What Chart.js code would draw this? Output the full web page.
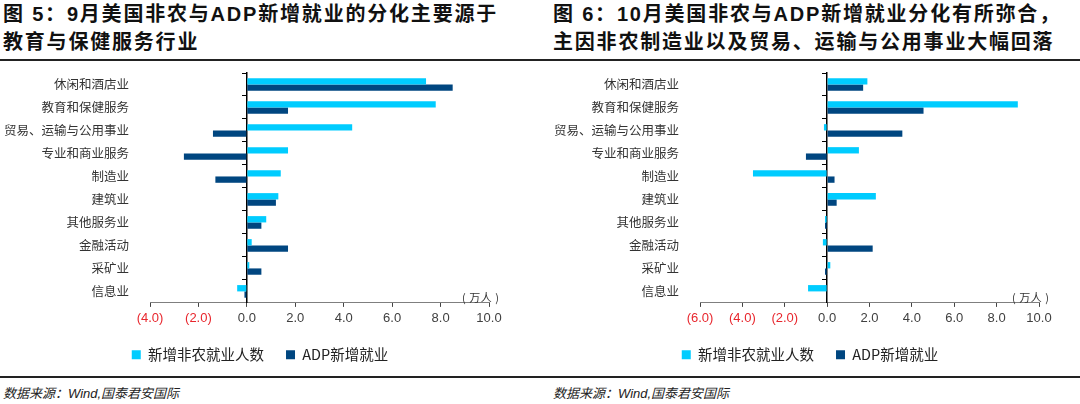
<!DOCTYPE html>
<html>
<head>
<meta charset="utf-8">
<script src="https://cdn.jsdelivr.net/npm/chart.js"></script>
<style>
  html, body { margin: 0; padding: 0; background: #fff; }
  #page { position: relative; width: 1080px; height: 404px; overflow: hidden; }
  .title { position: absolute; top: 0; font: bold 20px "Liberation Sans", "Noto Sans CJK SC", sans-serif;
           line-height: 28px; letter-spacing: 1.8px; color: #111; white-space: nowrap; }
  .rule { position: absolute; left: 0; width: 1080px; height: 2px; background: #222; z-index: 2; }
  .unit { position: absolute; font: 11px "Noto Sans CJK SC", sans-serif; color: #333; letter-spacing: 0.5px; }
  .source { position: absolute; top: 383px; font: italic 13px "Liberation Sans", "Noto Sans CJK SC", sans-serif; color: #222; }
  .box { position: absolute; top: 62px; width: 520px; height: 310px; }
</style>
</head>
<body>
<div id="page">
  <div class="title" style="left:3px">图 5：9月美国非农与ADP新增就业的分化主要源于<br>教育与保健服务行业</div>
  <div class="title" style="left:553px">图 6：10月美国非农与ADP新增就业分化有所弥合，<br>主因非农制造业以及贸易、运输与公用事业大幅回落</div>
  <div class="rule" style="top:59px"></div>

  <div class="box" style="left:0"><canvas id="c1"></canvas></div>
  <div class="box" style="left:550px"><canvas id="c2"></canvas></div>

  <div class="unit" style="left:462px; top:289px">( 万人 )</div>
  <div class="unit" style="left:1012px; top:289px">( 万人 )</div>

  <div class="rule" style="top:376px"></div>
  <div class="source" style="left:3px">数据来源：Wind,国泰君安国际</div>
  <div class="source" style="left:553px">数据来源：Wind,国泰君安国际</div>
</div>

<script>
// categories (top -> bottom)
const categories = ['休闲和酒店业', '教育和保健服务', '贸易、运输与公用事业', '专业和商业服务', '制造业',
                    '建筑业', '其他服务业', '金融活动', '采矿业', '信息业'];

// 9月 (万人)
const sepNonfarm = [7.4, 7.8, 4.35, 1.7, 1.4, 1.3, 0.8, 0.2, 0.1, -0.4];
const sepAdp     = [8.5, 1.7, -1.4, -2.6, -1.3, 1.2, 0.6, 1.7, 0.6, -0.1];

// 10月 (万人)
const octNonfarm = [1.9, 9.0, -0.15, 1.5, -3.5, 2.3, -0.1, -0.2, 0.15, -0.9];
const octAdp     = [1.7, 4.55, 3.55, -1.0, 0.35, 0.45, -0.1, 2.15, -0.1, -0.02];

const seriesNames = ['新增非农就业人数', 'ADP新增就业'];
const sepRange = [-4, 10];
const octRange = [-6, 10];

const CYAN = '#00CCFF';
const NAVY = '#004680';

function makeChart(id, nonfarm, adp, range) {
	return new Chart(document.getElementById(id), {
		type: 'bar',
		data: {
			labels: categories,
			datasets: [
				{ label: seriesNames[0], data: nonfarm, backgroundColor: CYAN, yAxisID: 'y' },
				{ label: seriesNames[1], data: adp, backgroundColor: NAVY, yAxisID: 'y' }
			]
		},
		options: {
			indexAxis: 'y',
			responsive: true,
			maintainAspectRatio: false,
			animation: false,
			categoryPercentage: 0.55,
			barPercentage: 1.0,
			layout: { padding: { top: 11, right: 31, left: 31, bottom: 0 } },
			plugins: {
				tooltip: { enabled: false },
				legend: {
					position: 'bottom',
					labels: {
						boxWidth: 9, boxHeight: 9, padding: 22,
						color: '#222',
						font: { family: '"Noto Sans CJK SC", "Liberation Sans", sans-serif', size: 14.5 }
					}
				}
			},
			scales: {
				x: {
					min: range[0], max: range[1],
					ticks: {
						stepSize: 2, padding: 4,
						color: ctx => ctx.tick.value < 0 ? '#E8262D' : '#404040',
						font: { family: '"Liberation Sans", Arial, sans-serif', size: 13 },
						callback: v => v < 0 ? '(' + Math.abs(v).toFixed(1) + ')' : v.toFixed(1)
					},
					grid: { drawOnChartArea: false, drawTicks: true, tickLength: 4, color: '#444' },
					border: { display: true, color: '#7f7f7f', width: 1 },
					afterFit: scale => { scale.height -= 5; }
				},
				y: {
					position: 'left',
					grid: { display: false },
					border: { display: false },
					ticks: {
						padding: 13, color: '#333',
						font: { family: '"Noto Sans CJK SC", sans-serif', size: 12.5 }
					},
					afterFit: scale => {
						scale.width = 119;
						scale.paddingTop = 0;
						scale.paddingBottom = 0;
						// long labels reach past the padded box; do not clip them
						scale._computeLabelArea = () => undefined;
					}
				},
				y2: {
					type: 'category',
					position: { x: 0 },
					offset: true,
					z: 1,
					ticks: { display: false },
					grid: { offset: true, drawOnChartArea: false, drawTicks: true, tickLength: 4, color: '#000' },
					border: { display: true, color: '#000', width: 1.5 },
					afterFit: scale => { scale.paddingTop = 0; scale.paddingBottom = 0; }
				}
			}
		}
	});
}

makeChart('c1', sepNonfarm, sepAdp, sepRange);
makeChart('c2', octNonfarm, octAdp, octRange);
</script>
</body>
</html>
